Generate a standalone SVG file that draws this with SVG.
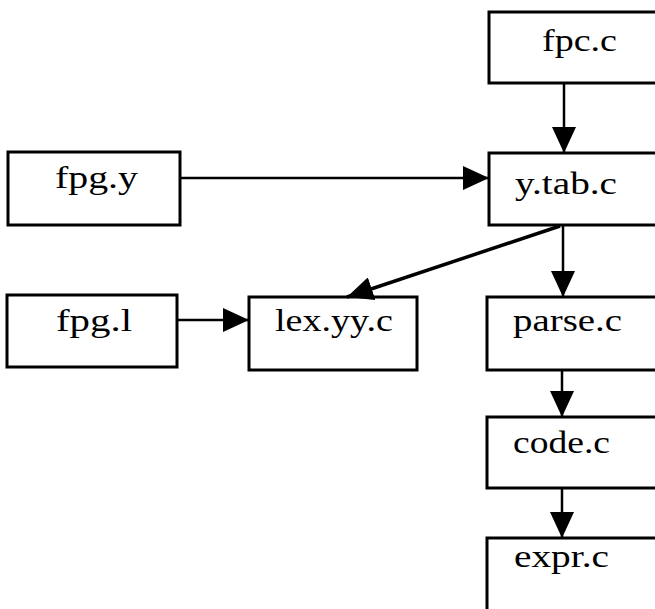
<svg xmlns="http://www.w3.org/2000/svg" width="655" height="609" viewBox="0 0 655 609">
<style>
.box{fill:#fff;stroke:#000;stroke-width:3}
.lbl{font-family:"Liberation Serif","Times New Roman",serif;font-size:32px;fill:#000}
.edge{stroke:#000;stroke-width:2.5;fill:none}
</style>
<defs>
<marker id="ah" markerUnits="userSpaceOnUse" markerWidth="26" markerHeight="24" refX="26" refY="12" orient="auto">
<path d="M0,0 L26,12 L0,24 z" fill="#000"/>
</marker>
</defs>
<rect width="655" height="609" fill="#fff"/>
<g id="fpc"><rect class="box" x="489" y="12" width="220" height="71"/><text class="lbl" x="542" y="51" textLength="75" lengthAdjust="spacingAndGlyphs">fpc.c</text></g>
<g id="ytab"><rect class="box" x="489" y="153" width="220" height="72"/><text class="lbl" x="515" y="194" textLength="102" lengthAdjust="spacingAndGlyphs">y.tab.c</text></g>
<g id="fpgy"><rect class="box" x="8" y="152" width="172" height="73"/><text class="lbl" x="55" y="188" textLength="83" lengthAdjust="spacingAndGlyphs">fpg.y</text></g>
<g id="fpgl"><rect class="box" x="7" y="295" width="170" height="72"/><text class="lbl" x="56" y="331" textLength="76" lengthAdjust="spacingAndGlyphs">fpg.l</text></g>
<g id="lexyy"><rect class="box" x="249" y="297" width="168" height="73"/><text class="lbl" x="275" y="331" textLength="118" lengthAdjust="spacingAndGlyphs">lex.yy.c</text></g>
<g id="parse"><rect class="box" x="487" y="297" width="220" height="73"/><text class="lbl" x="513" y="331" textLength="109" lengthAdjust="spacingAndGlyphs">parse.c</text></g>
<g id="code"><rect class="box" x="487" y="417" width="220" height="71"/><text class="lbl" x="513" y="453" textLength="97" lengthAdjust="spacingAndGlyphs">code.c</text></g>
<g id="expr"><rect class="box" x="487" y="538" width="220" height="120"/><text class="lbl" x="514" y="567" textLength="95" lengthAdjust="spacingAndGlyphs">expr.c</text></g>
<g id="connectors">
<line class="edge" x1="564" y1="83" x2="564" y2="153" marker-end="url(#ah)"/>
<line class="edge" x1="180" y1="178" x2="489" y2="178" marker-end="url(#ah)"/>
<line class="edge" x1="177" y1="320" x2="249" y2="320" marker-end="url(#ah)"/>
<line class="edge" x1="560" y1="226" x2="347" y2="297" marker-end="url(#ah)" style="stroke-width:3.5"/>
<line class="edge" x1="563" y1="225" x2="563" y2="297" marker-end="url(#ah)"/>
<line class="edge" x1="562" y1="370" x2="562" y2="417" marker-end="url(#ah)"/>
<line class="edge" x1="562" y1="488" x2="562" y2="538" marker-end="url(#ah)"/>
</g>
</svg>
